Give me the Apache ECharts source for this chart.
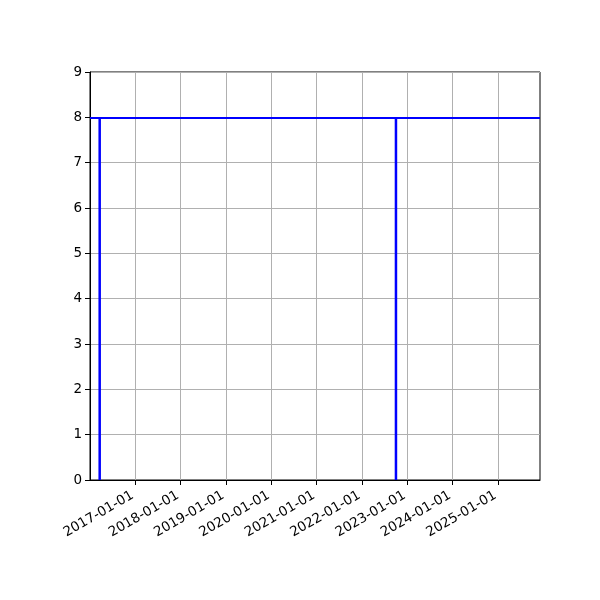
<!DOCTYPE html>
<html>
<head>
<meta charset="utf-8">
<script src="https://cdn.jsdelivr.net/npm/echarts@6/dist/echarts.min.js"></script>
<style>
  html, body { margin: 0; padding: 0; background: #fff; }
  #chart { width: 600px; height: 600px; }
</style>
</head>
<body>
<div id="chart"></div>
<script>
// data
const eventDates = ["2016-03-21", "2022-10-02"];
const eventHeight = 8;
const levelValue = 8;
const xRange = ["2016-01-03", "2025-12-05"];
const yearTicks = ["2017-01-01", "2018-01-01", "2019-01-01", "2020-01-01",
  "2021-01-01", "2022-01-01", "2023-01-01", "2024-01-01", "2025-01-01"];

const ts = d => new Date(d + "T00:00:00Z").getTime();
const pad = n => (n < 10 ? "0" : "") + n;
const fmtDate = v => {
  const d = new Date(v);
  return d.getUTCFullYear() + "-" + pad(d.getUTCMonth() + 1) + "-" + pad(d.getUTCDate());
};

const tickValues = yearTicks.map(ts);
const font = "DejaVu Sans";

const series = eventDates.map((d, i) => ({
  type: "line",
  data: [[ts(d), 0], [ts(d), eventHeight]],
  symbol: "none",
  lineStyle: { color: "#0000ff", width: 2.5 },
  z: 3,
  markLine: i === 0 ? {
    silent: true,
    symbol: "none",
    label: { show: false },
    lineStyle: { color: "#0000ff", width: 2, type: "solid" },
    data: [{ yAxis: levelValue }]
  } : undefined
}));

const chart = echarts.init(document.getElementById("chart"), null, { renderer: "canvas" });
chart.setOption({
  backgroundColor: "#fff",
  animation: false,
  grid: {
    left: 90, right: 60, top: 72, bottom: 120,
    show: true, borderColor: "#000", borderWidth: 1, backgroundColor: "transparent"
  },
  xAxis: {
    type: "value",
    min: ts(xRange[0]),
    max: ts(xRange[1]),
    axisLine: { show: true, lineStyle: { color: "#000", width: 1 } },
    axisTick: { show: true, customValues: tickValues, length: 5, lineStyle: { color: "#000" } },
    axisLabel: {
      customValues: tickValues,
      formatter: v => fmtDate(v),
      rotate: 30,
      color: "#000",
      fontFamily: font,
      fontSize: 13.5,
      margin: 13,
      padding: [0, 3, 0, 0],
      hideOverlap: false
    },
    splitLine: { show: true, lineStyle: { color: "#b0b0b0", width: 1 } }
  },
  yAxis: {
    type: "value",
    min: 0, max: 9, interval: 1,
    axisLine: { show: true, lineStyle: { color: "#000", width: 1 } },
    axisTick: { show: true, length: 5, lineStyle: { color: "#000" } },
    axisLabel: { color: "#000", fontFamily: font, fontSize: 13.5, margin: 8 },
    splitLine: { show: true, lineStyle: { color: "#b0b0b0", width: 1 } }
  },
  series: series
});
</script>
</body>
</html>
